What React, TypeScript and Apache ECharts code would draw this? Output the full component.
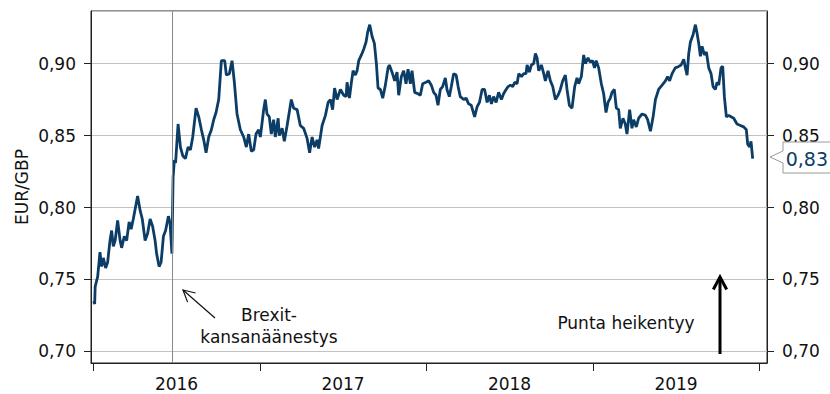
import React, { useEffect, useRef } from "react";
import * as echarts from "echarts";

const FONT = "DejaVu Sans";
const LINE_COLOR = "#0b3d66";
const TEXT_COLOR = "#111111";
const AXIS_COLOR = "#222222";

const START_YEAR = 2016;
const YEAR_LABELS = ["2016", "2017", "2018", "2019"];
const Y_AXIS_NAME = "EUR/GBP";
const BREXIT_LABEL = "Brexit-\nkansanäänestys";
const POUND_LABEL = "Punta heikentyy";
const BREXIT_VOTE = 2016.475;

const X_MIN = 2015.984;
const X_MAX = 2020.044;
const Y_MIN = 0.692;
const Y_MAX = 0.9365;

// years elapsed since 1.1.2016
const YEAR_OFFSETS = [
  0.000, 0.006, 0.009, 0.024, 0.038, 0.048, 0.058, 0.072, 0.084, 0.098,
  0.108, 0.118, 0.129, 0.144, 0.159, 0.168, 0.184, 0.198, 0.213, 0.225,
  0.238, 0.264, 0.279, 0.292, 0.309, 0.324, 0.339, 0.354, 0.369, 0.378,
  0.393, 0.405, 0.419, 0.432, 0.449, 0.459, 0.470, 0.477, 0.485, 0.492,
  0.507, 0.521, 0.535, 0.551, 0.567, 0.581, 0.595, 0.615, 0.631, 0.647,
  0.661, 0.675, 0.691, 0.707, 0.721, 0.735, 0.751, 0.767, 0.787, 0.797,
  0.815, 0.831, 0.845, 0.861, 0.881, 0.901, 0.917, 0.931, 0.947, 0.961,
  0.975, 0.991, 1.001, 1.021, 1.031, 1.041, 1.055, 1.067, 1.081, 1.091,
  1.108, 1.115, 1.132, 1.145, 1.162, 1.187, 1.201, 1.222, 1.241, 1.261,
  1.282, 1.297, 1.312, 1.327, 1.342, 1.351, 1.372, 1.392, 1.408, 1.422,
  1.435, 1.447, 1.462, 1.482, 1.502, 1.516, 1.522, 1.536, 1.548, 1.558,
  1.572, 1.582, 1.592, 1.608, 1.622, 1.636, 1.646, 1.658, 1.672, 1.686,
  1.698, 1.708, 1.722, 1.736, 1.752, 1.768, 1.776, 1.792, 1.808, 1.822,
  1.832, 1.848, 1.862, 1.876, 1.888, 1.902, 1.912, 1.928, 1.948, 1.962,
  1.976, 1.996, 2.012, 2.028, 2.042, 2.056, 2.068, 2.082, 2.096, 2.112,
  2.122, 2.136, 2.148, 2.162, 2.177, 2.189, 2.202, 2.222, 2.237, 2.252,
  2.268, 2.288, 2.303, 2.317, 2.333, 2.348, 2.363, 2.377, 2.389, 2.402,
  2.417, 2.432, 2.449, 2.462, 2.477, 2.489, 2.503, 2.517, 2.529, 2.543,
  2.553, 2.569, 2.583, 2.597, 2.603, 2.617, 2.629, 2.643, 2.653, 2.663,
  2.673, 2.689, 2.703, 2.713, 2.729, 2.743, 2.757, 2.773, 2.789, 2.803,
  2.817, 2.833, 2.843, 2.857, 2.873, 2.889, 2.903, 2.913, 2.929, 2.943,
  2.953, 2.969, 2.982, 2.996, 3.008, 3.018, 3.033, 3.049, 3.063, 3.077,
  3.089, 3.103, 3.113, 3.127, 3.139, 3.153, 3.163, 3.179, 3.193, 3.203,
  3.219, 3.233, 3.243, 3.259, 3.273, 3.294, 3.314, 3.327, 3.344, 3.360,
  3.374, 3.393, 3.414, 3.434, 3.447, 3.459, 3.474, 3.493, 3.514, 3.528,
  3.544, 3.554, 3.564, 3.574, 3.584, 3.600, 3.614, 3.624, 3.634, 3.644,
  3.654, 3.668, 3.680, 3.694, 3.708, 3.720, 3.734, 3.744, 3.754, 3.768,
  3.778, 3.788, 3.800, 3.814, 3.828, 3.844, 3.864, 3.884, 3.904, 3.920,
  3.928, 3.940, 3.948, 3.958,
];

const EUR_GBP = [
  0.735, 0.733, 0.745, 0.752, 0.769, 0.759, 0.765, 0.758, 0.762, 0.777,
  0.784, 0.773, 0.777, 0.791, 0.777, 0.772, 0.780, 0.777, 0.790, 0.785,
  0.792, 0.808, 0.798, 0.792, 0.777, 0.782, 0.792, 0.787, 0.777, 0.768,
  0.759, 0.762, 0.780, 0.784, 0.794, 0.789, 0.768, 0.821, 0.833, 0.831,
  0.858, 0.842, 0.836, 0.834, 0.842, 0.840, 0.849, 0.869, 0.863, 0.854,
  0.847, 0.838, 0.849, 0.854, 0.861, 0.866, 0.875, 0.902, 0.902, 0.892,
  0.893, 0.902, 0.887, 0.865, 0.854, 0.849, 0.842, 0.851, 0.839, 0.840,
  0.851, 0.854, 0.849, 0.868, 0.875, 0.865, 0.863, 0.851, 0.861, 0.849,
  0.862, 0.850, 0.855, 0.846, 0.857, 0.875, 0.869, 0.868, 0.857, 0.855,
  0.848, 0.838, 0.849, 0.842, 0.847, 0.841, 0.857, 0.864, 0.873, 0.875,
  0.868, 0.883, 0.875, 0.882, 0.878, 0.877, 0.887, 0.876, 0.887, 0.895,
  0.892, 0.895, 0.902, 0.906, 0.910, 0.915, 0.922, 0.927, 0.919, 0.914,
  0.900, 0.883, 0.882, 0.876, 0.885, 0.897, 0.899, 0.894, 0.888, 0.894,
  0.878, 0.891, 0.895, 0.886, 0.896, 0.886, 0.895, 0.880, 0.879, 0.878,
  0.886, 0.887, 0.888, 0.885, 0.880, 0.878, 0.871, 0.882, 0.884, 0.890,
  0.882, 0.877, 0.884, 0.893, 0.892, 0.884, 0.877, 0.875, 0.876, 0.872,
  0.871, 0.863, 0.870, 0.873, 0.882, 0.882, 0.873, 0.878, 0.872, 0.877,
  0.873, 0.880, 0.875, 0.879, 0.882, 0.884, 0.885, 0.884, 0.887, 0.886,
  0.893, 0.891, 0.893, 0.893, 0.899, 0.894, 0.899, 0.900, 0.907, 0.904,
  0.895, 0.899, 0.893, 0.888, 0.895, 0.888, 0.884, 0.875, 0.878, 0.882,
  0.888, 0.892, 0.882, 0.871, 0.869, 0.884, 0.890, 0.886, 0.891, 0.906,
  0.900, 0.904, 0.901, 0.902, 0.897, 0.902, 0.897, 0.886, 0.879, 0.866,
  0.873, 0.876, 0.880, 0.882, 0.869, 0.868, 0.855, 0.862, 0.858, 0.851,
  0.868, 0.855, 0.861, 0.856, 0.862, 0.865, 0.864, 0.861, 0.853, 0.863,
  0.875, 0.882, 0.885, 0.888, 0.891, 0.888, 0.893, 0.897, 0.898, 0.899,
  0.903, 0.897, 0.892, 0.907, 0.915, 0.920, 0.927, 0.921, 0.914, 0.905,
  0.912, 0.906, 0.908, 0.897, 0.893, 0.884, 0.882, 0.887, 0.885, 0.897,
  0.898, 0.877, 0.863, 0.864, 0.863, 0.862, 0.858, 0.857, 0.856, 0.854,
  0.844, 0.842, 0.846, 0.834,
];

const fmt = (v: number) => v.toFixed(2).replace(".", ",");

export default function App() {
  const ref = useRef<HTMLDivElement>(null);

  useEffect(() => {
    if (!ref.current) return;
    const chart = echarts.init(ref.current, null, { renderer: "svg" });
    const data = YEAR_OFFSETS.map((t, i) => [START_YEAR + t, EUR_GBP[i]]);

    const yCommon = {
      type: "value" as const,
      gridIndex: 0,
      min: Y_MIN,
      max: Y_MAX,
      axisLine: { show: true, lineStyle: { color: AXIS_COLOR, width: 1 } },
      axisTick: { show: true, length: 7, lineStyle: { color: AXIS_COLOR } },
      axisLabel: {
        formatter: (v: number) => fmt(v),
        fontSize: 17,
        fontFamily: FONT,
        color: TEXT_COLOR,
        margin: 15,
        showMinLabel: false,
        showMaxLabel: false,
      },
    };

    const option: any = {
      animation: false,
      textStyle: { fontFamily: FONT },
      grid: [
        { left: 91, right: 63, top: 11, bottom: 31, show: true, borderColor: AXIS_COLOR, borderWidth: 1 },
        { left: 93.3, right: 70.7, top: 11, bottom: 31, show: false },
      ],
      xAxis: [
        {
          type: "value",
          gridIndex: 0,
          min: X_MIN,
          max: X_MAX,
          axisLine: { show: true, onZero: false, lineStyle: { color: AXIS_COLOR } },
          axisTick: { show: false },
          axisLabel: { show: false },
          splitLine: { show: false },
        },
        {
          type: "category",
          gridIndex: 1,
          data: YEAR_LABELS,
          boundaryGap: true,
          axisLine: { show: true, onZero: false, lineStyle: { color: AXIS_COLOR } },
          axisTick: { show: true, length: 8, interval: 0, lineStyle: { color: AXIS_COLOR } },
          axisLabel: { fontSize: 17, fontFamily: FONT, color: TEXT_COLOR, margin: 12, interval: 0 },
          splitLine: { show: false },
        },
      ],
      yAxis: [
        {
          ...yCommon,
          position: "left",
          name: Y_AXIS_NAME,
          nameLocation: "middle",
          nameGap: 61,
          nameMoveOverlap: false,
          nameTextStyle: { fontSize: 17, fontFamily: FONT, color: TEXT_COLOR },
          splitLine: { show: true, lineStyle: { color: "#c2c2c2", width: 1.2 } },
        },
        {
          ...yCommon,
          position: "right",
          splitLine: { show: false },
        },
        { type: "value", gridIndex: 1, show: false },
      ],
      series: [
        {
          type: "line",
          xAxisIndex: 0,
          yAxisIndex: 0,
          data,
          showSymbol: false,
          silent: true,
          z: 3,
          lineStyle: { color: LINE_COLOR, width: 2.8 },
          itemStyle: { color: LINE_COLOR },
          endLabel: {
            show: true,
            formatter: (p: any) => fmt(p.value[1]),
            color: LINE_COLOR,
            fontSize: 19,
            fontFamily: FONT,
            distance: 33,
          },
          markLine: {
            silent: true,
            symbol: ["none", "none"],
            label: { show: false },
            lineStyle: { color: "#8a8a8a", width: 1, type: "solid" },
            data: [{ xAxis: BREXIT_VOTE }],
          },
        },
      ],
      graphic: [
        {
          type: "polygon",
          z: 1,
          shape: {
            points: [
              [770, 157], [783, 151], [783, 142], [836, 142],
              [836, 173], [783, 173], [783, 163],
            ],
          },
          style: { fill: "#ffffff", stroke: "#9a9a9a", lineWidth: 1 },
        },
        {
          type: "line",
          z: 10,
          shape: { x1: 215, y1: 318, x2: 183, y2: 290 },
          style: { stroke: TEXT_COLOR, lineWidth: 1.2 },
        },
        {
          type: "polyline",
          z: 10,
          shape: { points: [[187.6, 302.1], [183, 290], [195.6, 293]] },
          style: { stroke: TEXT_COLOR, lineWidth: 1.2, fill: "none" },
        },
        {
          type: "text",
          z: 10,
          x: 269,
          y: 326,
          style: {
            text: BREXIT_LABEL,
            fontSize: 17,
            fontFamily: FONT,
            fill: TEXT_COLOR,
            align: "center",
            verticalAlign: "middle",
            lineHeight: 22,
          },
        },
        {
          type: "text",
          z: 10,
          x: 626,
          y: 323,
          style: {
            text: POUND_LABEL,
            fontSize: 17,
            fontFamily: FONT,
            fill: TEXT_COLOR,
            align: "center",
            verticalAlign: "middle",
          },
        },
        {
          type: "line",
          z: 10,
          shape: { x1: 720, y1: 354, x2: 720, y2: 278 },
          style: { stroke: "#000000", lineWidth: 3 },
        },
        {
          type: "polyline",
          z: 10,
          shape: { points: [[713.3, 289.5], [720, 277], [726.7, 289.5]] },
          style: { stroke: "#000000", lineWidth: 3, fill: "none" },
        },
      ],
    };

    chart.setOption(option);
    return () => chart.dispose();
  }, []);

  return (
    <div
      ref={ref}
      style={{ position: "fixed", left: 0, top: 0, width: 830, height: 394, background: "#ffffff" }}
    />
  );
}
